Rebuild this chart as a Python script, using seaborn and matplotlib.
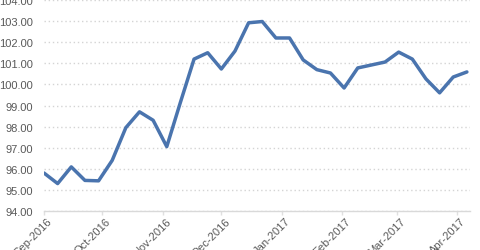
import numpy as np
import pandas as pd
import matplotlib
matplotlib.use("Agg")
import matplotlib.pyplot as plt
import matplotlib.dates as mdates
import matplotlib.transforms as mtransforms
import seaborn as sns

start_date = "2016-09-01"
values = [95.80, 95.30, 96.09, 95.45, 95.43, 96.40, 97.95, 98.70, 98.30, 97.05,
          99.15, 101.20, 101.50, 100.73, 101.58, 102.92, 102.98, 102.20, 102.20, 101.16,
          100.70, 100.54, 99.83, 100.78, 100.92, 101.06, 101.53, 101.20, 100.26, 99.60,
          100.35, 100.59]
y_ticks = [94, 95, 96, 97, 98, 99, 100, 101, 102, 103, 104]

dates = pd.date_range(start_date, periods=len(values), freq="7D")
df = pd.DataFrame({"date": dates, "value": values})

sns.set_theme(style="white")
plt.rcParams["font.family"] = ["Liberation Sans", "DejaVu Sans"]

fig = plt.figure(figsize=(4.8, 2.51), dpi=100)
ax = fig.add_axes([44/480, 39/251, 426/480, 211/251])

sns.lineplot(data=df, x="date", y="value", ax=ax, color="#4A74AE", linewidth=2.5)

ax.set_ylim(94, 104)
ax.set_yticks(y_ticks)
ax.set_yticklabels([f"{v:.2f}" for v in y_ticks])
ax.set_xlim(pd.Timestamp("2016-09-01"), pd.Timestamp("2016-09-01") + pd.Timedelta(days=218.6))
ax.xaxis.set_major_locator(mdates.MonthLocator())
ax.xaxis.set_major_formatter(mdates.DateFormatter("%b-%Y"))

ax.grid(axis="y", color="#d4d4d4", linestyle=(0, (1, 2)), linewidth=1)
ax.grid(axis="x", visible=False)
for s in ["top", "right", "left"]:
    ax.spines[s].set_visible(False)
ax.spines["bottom"].set_color("#d9d9d9")
ax.spines["bottom"].set_linewidth(1)

ax.tick_params(axis="y", length=0, labelsize=8, labelcolor="#595959", pad=8)
ax.tick_params(axis="x", length=3, width=1, color="#e0e0e0", labelsize=8,
               labelcolor="#595959", pad=1, bottom=True)
offset = mtransforms.ScaledTranslation(3/100, 1/100, fig.dpi_scale_trans)
for lbl in ax.get_xticklabels():
    lbl.set_rotation(45)
    lbl.set_ha("right")
    lbl.set_rotation_mode("anchor")
    lbl.set_transform(lbl.get_transform() + offset)

ax.set_xlabel("")
ax.set_ylabel("")
fig.savefig("out.png", dpi=100)
